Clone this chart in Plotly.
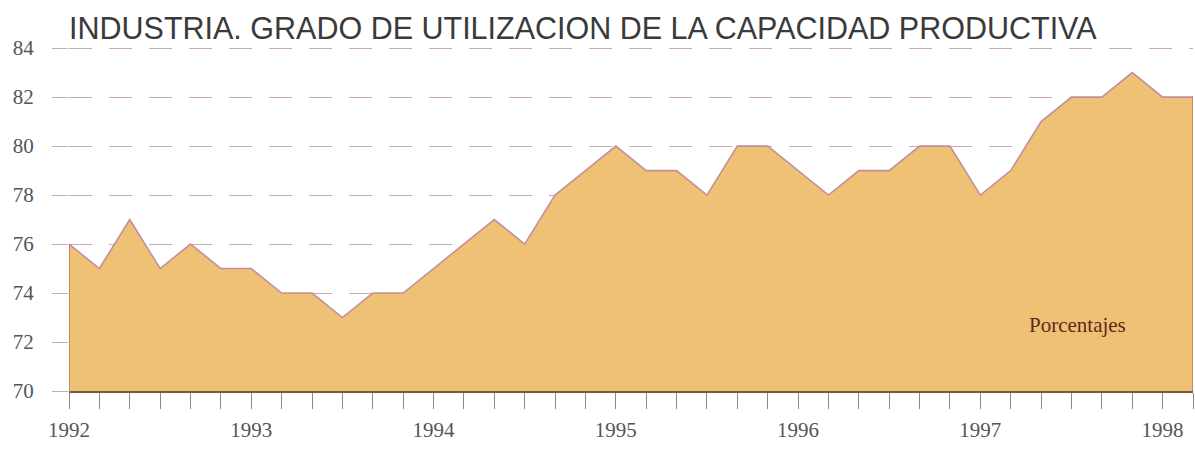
import plotly.graph_objects as go

# ---- data (bimonthly, starting Jan 1992) ----
start_year = 1992
steps_per_year = 6
utilizacion = [76, 75, 77, 75, 76, 75,
               75, 74, 74, 73, 74, 74,
               75, 76, 77, 76, 78, 79,
               80, 79, 79, 78, 80, 80,
               79, 78, 79, 79, 80, 80,
               78, 79, 81, 82, 82, 83,
               82, 82]
year_labels = ["1992", "1993", "1994", "1995", "1996", "1997", "1998"]
y_ticks = [70, 72, 74, 76, 78, 80, 82, 84]

x_vals = [start_year + i / steps_per_year for i in range(len(utilizacion))]
tick_vals = x_vals
tick_text = [year_labels[i // steps_per_year] if i % steps_per_year == 0 else "" for i in range(len(x_vals))]

FILL = "#EEC175"
EDGE = "#c2909b"
GRID = "#c9aab6"
SERIF = "Liberation Serif, Times New Roman, serif"

fig = go.Figure()
fig.add_trace(go.Scatter(
    x=x_vals, y=utilizacion, mode="lines",
    line=dict(color=EDGE, width=1.6),
    fill="tozeroy", fillcolor=FILL,
    hoverinfo="skip", showlegend=False,
))
# vertical edges of the area
fig.add_trace(go.Scatter(x=[x_vals[0], x_vals[0]], y=[y_ticks[0], utilizacion[0]], mode="lines",
                         line=dict(color="#9a7050", width=1.2), showlegend=False, hoverinfo="skip"))
fig.add_trace(go.Scatter(x=[x_vals[-1], x_vals[-1]], y=[y_ticks[0], utilizacion[-1]], mode="lines",
                         line=dict(color="#9a7050", width=1.2), showlegend=False, hoverinfo="skip"))

fig.add_annotation(x=1997.533, y=72.7, xref="x", yref="y", text="Porcentajes",
                   showarrow=False, font=dict(family=SERIF, size=21, color="#5a2a15"))

fig.update_layout(
    width=1195, height=449,
    margin=dict(l=69, r=2, t=42.4, b=57.5, autoexpand=False),
    paper_bgcolor="white", plot_bgcolor="white",
    title=dict(text="INDUSTRIA. GRADO DE UTILIZACION DE LA CAPACIDAD PRODUCTIVA",
               x=69 / 1195, xanchor="left", y=1 - 28 / 449, yanchor="middle",
               font=dict(family="Liberation Sans, Arial, sans-serif", size=30.5, color="#3a3a3a")),
    xaxis=dict(range=[x_vals[0], x_vals[-1]], tickvals=tick_vals, ticktext=tick_text,
               ticks="outside", ticklen=16, tickcolor="#8a8a8a", tickwidth=1.2,
               showline=True, linecolor="#7a5a3a", linewidth=1.5, automargin=False,
               showgrid=False, zeroline=False, ticklabelstandoff=3,
               tickfont=dict(family=SERIF, size=21, color="#555555")),
    yaxis=dict(range=[y_ticks[0], y_ticks[-1] + 0.25], tickvals=y_ticks,
               ticks="outside", ticklen=16, tickcolor=GRID, tickwidth=1.2,
               showgrid=True, gridcolor=GRID, gridwidth=1.2, griddash="23px,17px",
               zeroline=False, showline=False, ticklabelstandoff=14, automargin=False,
               tickfont=dict(family=SERIF, size=21, color="#555555")),
)

fig.write_html("out.html", config={"displayModeBar": False},
               post_script="document.body.style.margin='0';document.body.style.overflow='hidden';")
